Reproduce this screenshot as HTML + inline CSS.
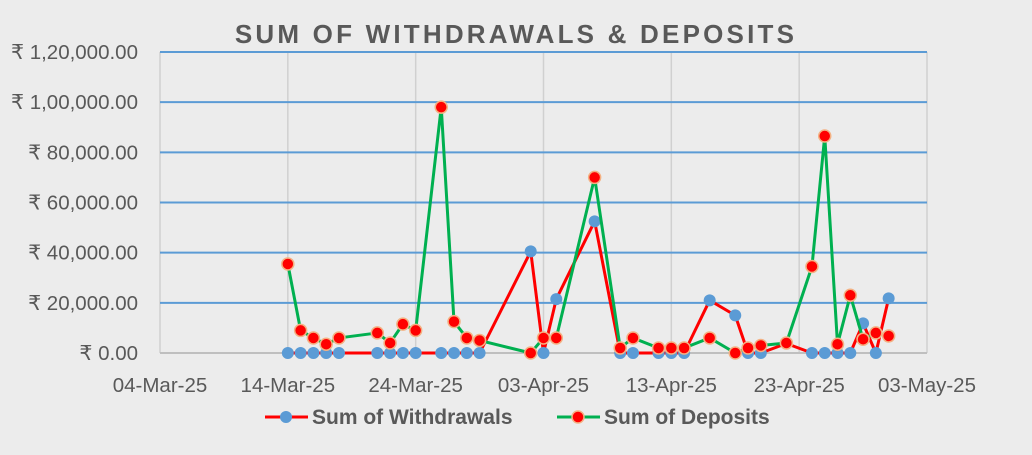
<!DOCTYPE html>
<html><head><meta charset="utf-8"><style>
body{margin:0;background:#ececec;width:1032px;height:450px;overflow:hidden;font-family:"Liberation Sans",sans-serif}
</style></head><body>
<svg id="chart" width="1032" height="450" xmlns="http://www.w3.org/2000/svg">
<rect width="1032" height="450" fill="#ececec"/>
<text x="516" y="43" text-anchor="middle" font-size="26" font-weight="bold" fill="#595959" letter-spacing="3.2">SUM OF WITHDRAWALS &amp; DEPOSITS</text>
<g id="grid"></g><g id="axes"></g><g id="series"></g>
<g>
<g>
<line x1="265" y1="417" x2="308" y2="417" stroke="#ff0000" stroke-width="3"/>
<circle cx="286" cy="417" r="6" fill="#5b9bd5"/>
<text x="312" y="424" font-size="21" font-weight="bold" fill="#595959">Sum of Withdrawals</text></g>
<g>
<line x1="557" y1="417" x2="600" y2="417" stroke="#00b050" stroke-width="3"/>
<circle cx="578" cy="417" r="6" fill="#ff0000" stroke="#f4b183" stroke-width="1.5"/>
<text x="604" y="424" font-size="21" font-weight="bold" fill="#595959">Sum of Deposits</text></g>
</g>
</svg>
<script>
const dates=["2025-03-14","2025-03-15","2025-03-16","2025-03-17","2025-03-18","2025-03-21","2025-03-22","2025-03-23","2025-03-24","2025-03-26","2025-03-27","2025-03-28","2025-03-29","2025-04-02","2025-04-03","2025-04-04","2025-04-07","2025-04-09","2025-04-10","2025-04-12","2025-04-13","2025-04-14","2025-04-16","2025-04-18","2025-04-19","2025-04-20","2025-04-22","2025-04-24","2025-04-25","2025-04-26","2025-04-27","2025-04-28","2025-04-29","2025-04-30"];
const withdrawals=[0,0,0,0,0,0,0,0,0,0,0,0,0,40500,0,21500,52500,0,0,0,0,0,21000,15000,0,0,3800,0,0,0,0,11800,0,21800];
const deposits=[35500,9000,6000,3500,6000,8000,4000,11500,9000,98000,12500,6000,5000,0,6000,6000,70000,2000,6000,2000,2000,2000,6000,0,2000,3000,4000,34500,86500,3500,23000,5500,8000,6800];
const yTicks=[0,20000,40000,60000,80000,100000,120000];
const yTickLabels=["₹ 0.00","₹ 20,000.00","₹ 40,000.00","₹ 60,000.00","₹ 80,000.00","₹ 1,00,000.00","₹ 1,20,000.00"];
const xTicks=["2025-03-04","2025-03-14","2025-03-24","2025-04-03","2025-04-13","2025-04-23","2025-05-03"];
const xTickLabels=["04-Mar-25","14-Mar-25","24-Mar-25","03-Apr-25","13-Apr-25","23-Apr-25","03-May-25"];
const NS="http://www.w3.org/2000/svg";
const L=160,R=927,T=52,B=353;
const d0=Date.parse(xTicks[0]),d1=Date.parse(xTicks[xTicks.length-1]);
const xs=d=>L+(Date.parse(d)-d0)/(d1-d0)*(R-L);
const ys=v=>B-v/120000*(B-T);
function mk(tag,attrs,parent){const e=document.createElementNS(NS,tag);for(const k in attrs)e.setAttribute(k,attrs[k]);parent.appendChild(e);return e;}
const grid=document.getElementById('grid'),axes=document.getElementById('axes'),series=document.getElementById('series');
xTicks.forEach((d,i)=>{const x=xs(d);
const g=mk('line',{x1:x,x2:x,y1:T,y2:B,stroke:'#d0d0d0','stroke-width':1.5},grid);


const t=mk('text',{x:x,y:392,'text-anchor':'middle','font-size':20.5,fill:'#595959'},axes);t.textContent=xTickLabels[i];

});
yTicks.forEach((v,i)=>{const y=ys(v);
if(v>0){const g=mk('line',{x1:L,x2:R,y1:y,y2:y,stroke:'#5b9bd5','stroke-width':2},grid);

}
const t=mk('text',{x:138,y:y+7,'text-anchor':'end','font-size':20.5,fill:'#595959'},axes);t.textContent=yTickLabels[i];

});
const ax=mk('line',{x1:L,x2:R,y1:B,y2:B,stroke:'#bfbfbf','stroke-width':2},axes);


function draw(vals,lineCol,fill,stroke,name){
const pts=dates.map((d,i)=>xs(d)+','+ys(vals[i])).join(' ');
const pl=mk('polyline',{points:pts,fill:'none',stroke:lineCol,'stroke-width':3,'stroke-linejoin':'round'},series);


dates.forEach((d,i)=>{const c=mk('circle',{cx:xs(d),cy:ys(vals[i]),r:6,fill:fill,stroke:stroke,'stroke-width':stroke=='none'?0:1.5},series);

});}
draw(withdrawals,'#ff0000','#5b9bd5','none','withdrawals');
draw(deposits,'#00b050','#ff0000','#f4b183','deposits');
</script>
</body></html>
